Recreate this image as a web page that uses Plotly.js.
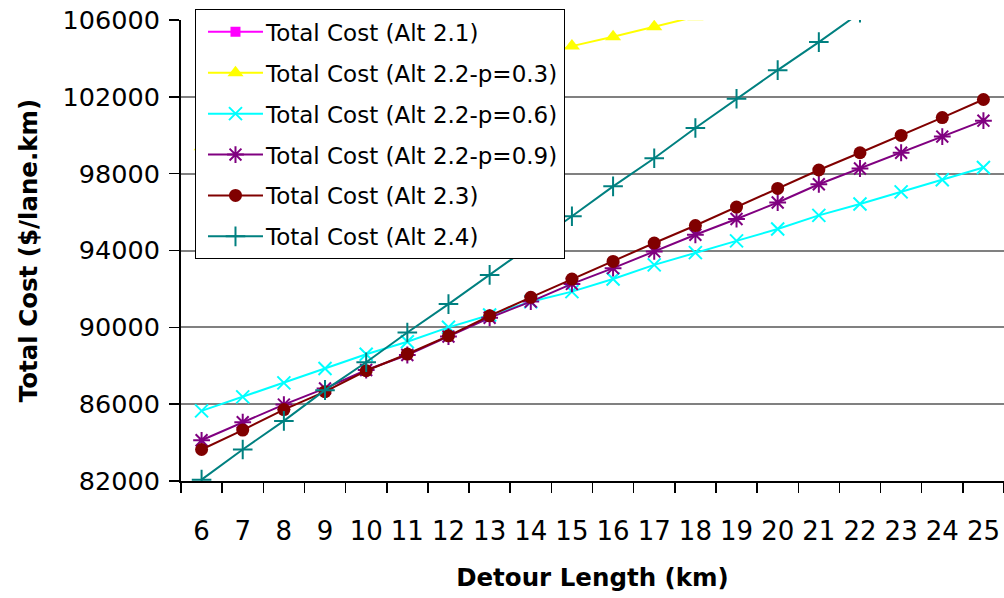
<!DOCTYPE html>
<html>
<head>
<meta charset="utf-8">
<script src="https://cdn.plot.ly/plotly-3.0.1.min.js"></script>
<style>
  html, body { margin: 0; padding: 0; background: #ffffff; }
  #chart { width: 1004px; height: 598px; }
</style>
</head>
<body>
<div id="chart"></div>
<script>
// Detour length categories (km)
var detourKm = ["6","7","8","9","10","11","12","13","14","15","16","17","18","19","20","21","22","23","24","25"];

// Series values ($/lane.km)
var alt21 = [107400, 107900, 108400, 108900, 109400, 109900, 110400, 110900, 111400, 111900, 112400, 112900, 113400, 113900, 114400, 114900, 115400, 115900, 116400, 116900];
var alt22p03 = [99400, 99980, 100570, 101150, 101730, 102320, 102900, 103480, 104060, 104640, 105130, 105650, 106170, 106690, 107210, 107730, 108250, 108770, 109290, 109810];
var alt22p06 = [85650, 86380, 87110, 87860, 88600, 89250, 90000, 90640, 91330, 91860, 92520, 93250, 93890, 94500, 95120, 95830, 96420, 97050, 97680, 98320];
var alt22p09 = [84120, 85060, 85980, 86820, 87780, 88560, 89520, 90500, 91340, 92260, 93080, 93950, 94820, 95640, 96500, 97450, 98270, 99090, 99930, 100760];
var alt23 = [83640, 84650, 85720, 86650, 87740, 88610, 89560, 90600, 91560, 92510, 93430, 94390, 95300, 96260, 97230, 98190, 99090, 99990, 100920, 101860];
var alt24 = [82070, 83640, 85130, 86730, 88180, 89730, 91210, 92730, 94290, 95780, 97340, 98800, 100380, 101900, 103390, 104850, 106380, 107900, 109420, 110940];

var seriesNames = [
  "Total Cost (Alt 2.1)",
  "Total Cost (Alt 2.2-p=0.3)",
  "Total Cost (Alt 2.2-p=0.6)",
  "Total Cost (Alt 2.2-p=0.9)",
  "Total Cost (Alt 2.3)",
  "Total Cost (Alt 2.4)"
];
var yTickVals = [82000, 86000, 90000, 94000, 98000, 102000, 106000];

var FONT = '"DejaVu Sans", "Liberation Sans", Arial, sans-serif';

function mk(name, y, color, symbol, size, group) {
  var open = symbol.indexOf('open') >= 0;
  return {
    type: 'scatter', mode: 'lines+markers',
    name: name, x: detourKm, y: y,
    legendgroup: group,
    line: { color: color, width: 2 },
    marker: open
      ? { symbol: symbol, size: size, color: color, line: { color: color, width: 2 } }
      : { symbol: symbol, size: size, color: color, line: { width: 0 } }
  };
}

var data = [
  mk(seriesNames[0], alt21, '#FF00FF', 'square', 10, 'g1'),
  mk(seriesNames[1], alt22p03, '#FFFF00', 'triangle-up', 14, 'g2'),
  mk(seriesNames[2], alt22p06, '#00FFFF', 'x-thin-open', 13, 'g3'),
  mk(seriesNames[3], alt22p09, '#800080', 'asterisk-open', 14, 'g4'),
  mk(seriesNames[4], alt23, '#800000', 'circle', 13, 'g5'),
  mk(seriesNames[5], alt24, '#008080', 'cross-thin-open', 14, 'g6')
];

var layout = {
  width: 1004, height: 598,
  paper_bgcolor: '#ffffff', plot_bgcolor: '#ffffff',
  margin: { l: 181, r: 0, t: 20, b: 117 },
  font: { family: FONT, color: '#000000' },
  showlegend: true,
  legend: {
    x: 0.017, y: 1.023, xanchor: 'left', yanchor: 'top',
    bgcolor: '#ffffff', bordercolor: '#000000', borderwidth: 1,
    font: { family: FONT, size: 23, color: '#000000' },
    traceorder: 'grouped', tracegroupgap: 8,
    itemwidth: 60
  },
  xaxis: {
    type: 'category',
    range: [-0.5, 19.5],
    tickson: 'boundaries',
    tickangle: 0,
    ticks: 'outside', ticklen: 10, tickwidth: 1.5, tickcolor: '#000000',
    showline: true, linecolor: '#000000', linewidth: 2,
    showgrid: false, zeroline: false,
    tickfont: { family: FONT, size: 26, color: '#000000' },
    ticklabelstandoff: 26,
    title: { text: 'Detour Length (km)', font: { family: FONT, size: 24.5, color: '#000000', weight: 'bold' }, standoff: 24 }
  },
  yaxis: {
    range: [82000, 106000],
    tickvals: yTickVals,
    ticktext: yTickVals.map(String),
    ticks: 'outside', ticklen: 10, tickwidth: 1.5, tickcolor: '#000000',
    showline: true, linecolor: '#000000', linewidth: 2,
    showgrid: true, gridcolor: '#808080', gridwidth: 2,
    zeroline: false,
    tickfont: { family: FONT, size: 25.5, color: '#000000' },
    ticklabelstandoff: 4,
    title: { text: 'Total Cost ($/lane.km)', font: { family: FONT, size: 24.5, color: '#000000', weight: 'bold' }, standoff: 18 }
  }
};

Plotly.newPlot('chart', data, layout, { displayModeBar: false, staticPlot: true }).then(function (gd) {
  // lengthen legend line samples and centre their markers, as in the reference legend keys
  var legend = gd.querySelector('.legend');
  if (!legend) return;
  legend.querySelectorAll('.legendlines path').forEach(function (p) {
    p.setAttribute('d', 'M12,0h55');
  });
  legend.querySelectorAll('.legendpoints path').forEach(function (p) {
    p.setAttribute('transform', 'translate(39.5,0)');
  });
});
</script>
</body>
</html>
